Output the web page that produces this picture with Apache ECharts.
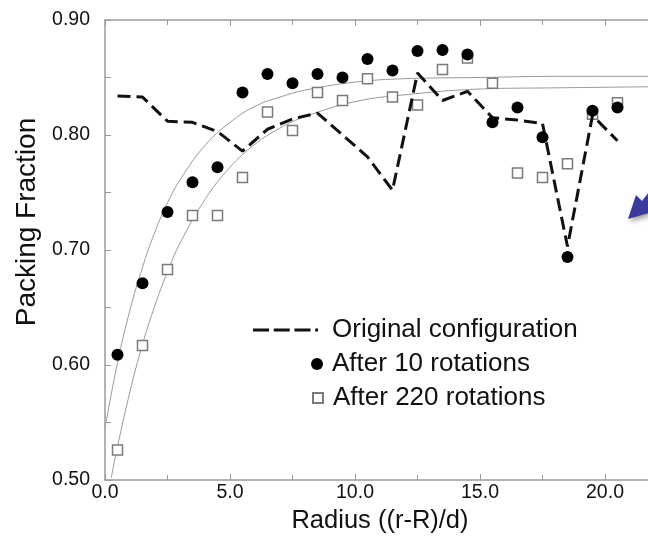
<!DOCTYPE html>
<html>
<head>
<meta charset="utf-8">
<script src="https://cdn.jsdelivr.net/npm/echarts@6/dist/echarts.min.js"></script>
<style>
html,body{margin:0;padding:0;background:#fff;overflow:hidden;}
#chart{width:648px;height:540px;}
</style>
</head>
<body>
<div id="chart"></div>
<script>
// ---- data ----
const radius = [0.5,1.5,2.5,3.5,4.5,5.5,6.5,7.5,8.5,9.5,10.5,11.5,12.5,13.5,14.5,15.5,16.5,17.5,18.5,19.5,20.5];
const original = [0.834,0.833,0.812,0.811,0.803,0.786,0.805,0.814,0.819,0.800,0.781,0.752,0.854,0.830,0.838,0.815,0.813,0.810,0.703,0.817,0.795];
const after10  = [0.609,0.671,0.733,0.759,0.772,0.837,0.853,0.845,0.853,0.850,0.866,0.856,0.873,0.874,0.870,0.811,0.824,0.798,0.694,0.821,0.824];
const after220 = [0.526,0.617,0.683,0.730,0.730,0.763,0.820,0.804,0.837,0.830,0.849,0.833,0.826,0.857,0.867,0.845,0.767,0.763,0.775,0.818,0.828];
// fitted trend curves
const fit10X  = [0,0.5,1,1.5,2,2.5,3,4,5,6,7,8,10,12,15,18,22];
const fit10Y  = [0.545,0.602,0.648,0.685,0.716,0.741,0.761,0.791,0.811,0.825,0.833,0.839,0.846,0.849,0.850,0.851,0.851];
const fit220X = [0.25,0.5,1,1.5,2,2.5,3,4,5,6,7,8,10,12,15,18,22];
const fit220Y = [0.502,0.529,0.577,0.618,0.652,0.681,0.706,0.744,0.772,0.792,0.806,0.816,0.829,0.835,0.840,0.841,0.842];
const xTicks = [0,5,10,15,20];
const yTicks = [0.5,0.6,0.7,0.8,0.9];
const names = ['Original configuration','After 10 rotations','After 220 rotations'];

const pair = (xs, ys) => xs.map((x, i) => [x, ys[i]]);
const FONT = "'Liberation Sans', Arial, Helvetica, sans-serif";
const axisGrey = '#9a9a9a';
const dashIcon = 'path://M0,0h17v3h-17z M22,0h17v3h-17z M44,0h17v3h-17z M66,0h3v3h-3z';

const chart = echarts.init(document.getElementById('chart'), null, {renderer: 'canvas'});
chart.setOption({
  backgroundColor: '#fff',
  animation: false,
  grid: {left: 105, top: 20, width: 550, height: 460, containLabel: false, outerBoundsMode: 'none'},
  legend: [
    {data: [{name: names[0], icon: dashIcon}], left: 248, top: 312, orient: 'vertical', itemWidth: 65, itemHeight: 3,
     textStyle: {fontFamily: FONT, fontSize: 26, color: '#111', padding: [0,0,0,9]}},
    {data: [names[1]], left: 306, top: 346, orient: 'vertical', itemWidth: 12, itemHeight: 12,
     textStyle: {fontFamily: FONT, fontSize: 26, color: '#111', padding: [0,0,0,4]}},
    {data: [names[2]], left: 307, top: 380, orient: 'vertical', itemWidth: 10, itemHeight: 10,
     textStyle: {fontFamily: FONT, fontSize: 26, color: '#111', padding: [0,0,0,5]}}
  ],
  xAxis: [{
    type: 'value', min: 0, max: 22, interval: 5,
    name: 'Radius ((r-R)/d)', nameLocation: 'middle', nameGap: 25,
    nameTextStyle: {fontFamily: FONT, fontSize: 25.5, color: '#111'},
    axisLine: {show: true, onZero: false, lineStyle: {color: axisGrey, width: 1.5}},
    axisTick: {show: true, inside: true, length: 6, lineStyle: {color: axisGrey}},
    minorTick: {show: true, splitNumber: 2, length: 5, lineStyle: {color: axisGrey}},
    axisLabel: {fontFamily: FONT, fontSize: 19.5, color: '#111', margin: 3,
      formatter: v => xTicks.includes(v) ? v.toFixed(1) : ''},
    splitLine: {show: false}
  }, {
    type: 'value', min: 0, max: 22, interval: 5, position: 'top',
    axisLine: {show: true, onZero: false, lineStyle: {color: axisGrey, width: 1.5}},
    axisTick: {show: true, inside: true, length: 6, lineStyle: {color: axisGrey}},
    minorTick: {show: true, splitNumber: 2, length: 5, lineStyle: {color: axisGrey}},
    axisLabel: {show: false}, splitLine: {show: false}
  }],
  yAxis: [{
    type: 'value', min: 0.5, max: 0.9, interval: 0.1,
    name: 'Packing Fraction', nameLocation: 'middle', nameGap: 64, nameRotate: 90,
    nameTextStyle: {fontFamily: FONT, fontSize: 28, color: '#111', padding: [0,0,0,56]},
    axisLine: {show: true, onZero: false, lineStyle: {color: axisGrey, width: 1.5}},
    axisTick: {show: true, inside: true, length: 6, lineStyle: {color: axisGrey}},
    minorTick: {show: true, splitNumber: 2, length: 6, lineStyle: {color: axisGrey}},
    axisLabel: {fontFamily: FONT, fontSize: 19.5, color: '#111', margin: 15,
      formatter: v => yTicks.some(t => Math.abs(t - v) < 1e-9) ? v.toFixed(2) : ''},
    splitLine: {show: false}
  }, {
    type: 'value', min: 0.5, max: 0.9, interval: 0.1, position: 'right',
    axisLine: {show: true, onZero: false, lineStyle: {color: axisGrey, width: 1.5}},
    axisTick: {show: true, inside: true, length: 7, lineStyle: {color: axisGrey}},
    minorTick: {show: true, splitNumber: 2, length: 7, lineStyle: {color: axisGrey}},
    axisLabel: {show: false}, splitLine: {show: false}
  }],
  series: [
    {name: 'fit10', type: 'line', data: pair(fit10X, fit10Y), smooth: 0.4, symbol: 'none',
     lineStyle: {color: '#9a9a9a', width: 1}, z: 1, silent: true},
    {name: 'fit220', type: 'line', data: pair(fit220X, fit220Y), smooth: 0.4, symbol: 'none',
     lineStyle: {color: '#9a9a9a', width: 1}, z: 1, silent: true},
    {name: names[2], type: 'scatter', data: pair(radius, after220), symbol: 'rect', symbolSize: 10,
     itemStyle: {color: '#fff', borderColor: '#7a7a7a', borderWidth: 1.5, opacity: 1}, z: 2},
    {name: names[0], type: 'line', data: pair(radius, original), symbol: 'none', showSymbol: false,
     lineStyle: {color: '#111', width: 3, type: [13, 6]}, itemStyle: {color: '#111'}, z: 3},
    {name: names[1], type: 'scatter', data: pair(radius, after10), symbol: 'circle', symbolSize: 12,
     itemStyle: {color: '#000', opacity: 1}, z: 4}
  ],
  graphic: [{
    type: 'polygon', z: 10,
    shape: {points: [[628,219],[636,195],[642,201],[649,192],[649,213]]},
    style: {fill: '#3a3a9e', shadowBlur: 5, shadowColor: 'rgba(0,0,0,0.35)', shadowOffsetX: 2, shadowOffsetY: 3}
  }]
});
</script>
</body>
</html>
